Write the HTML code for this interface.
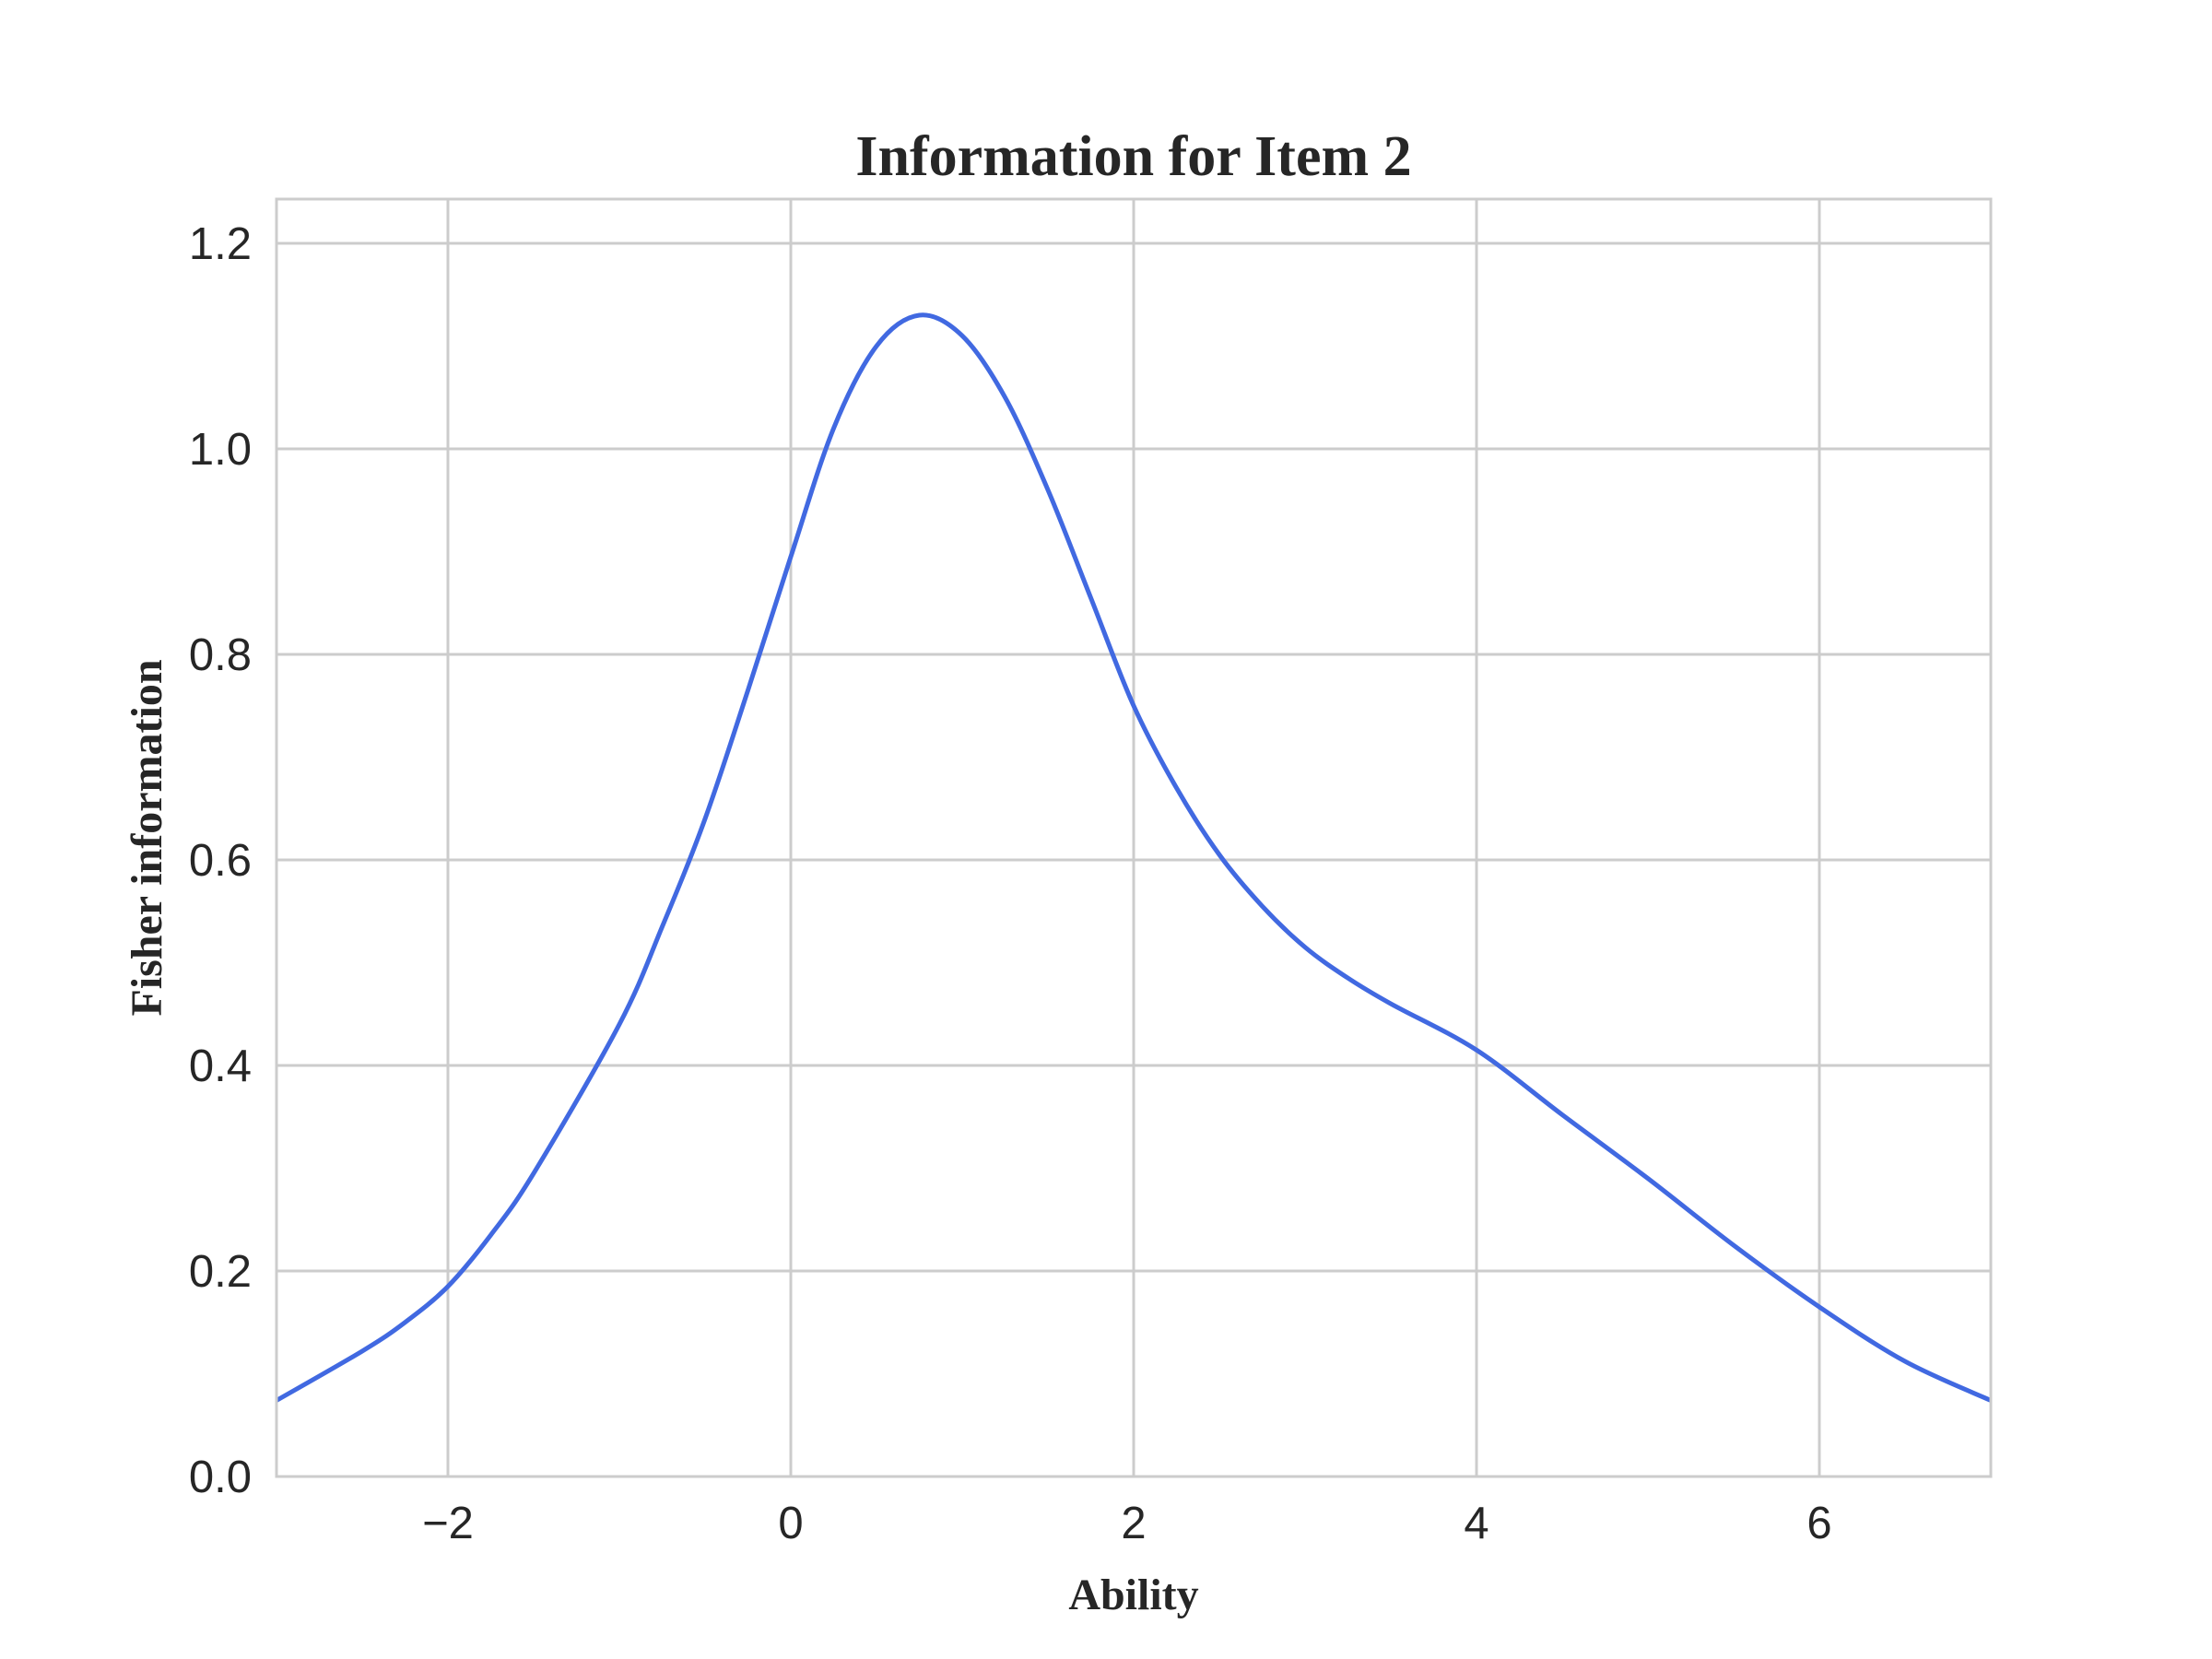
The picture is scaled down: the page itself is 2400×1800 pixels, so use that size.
<!DOCTYPE html>
<html><head><meta charset="utf-8"><style>html,body{margin:0;padding:0;background:#fff}svg{display:block}</style></head>
<body>
<svg id="chart" width="2400" height="1800" xmlns="http://www.w3.org/2000/svg">
<rect width="2400" height="1800" fill="#fff"/>
<g id="grid"></g>
<g id="ticks"></g>
<path id="curve" fill="none" stroke="#4169e1" stroke-width="5" stroke-linejoin="round"/>
<rect x="300" y="216" width="1860" height="1386" fill="none" stroke="#cccccc" stroke-width="3"/>
<text x="1230" y="190" text-anchor="middle" font-family="Liberation Serif, serif" font-weight="bold" font-size="62" fill="#262626">Information for Item 2</text>
<text x="1230" y="1746" text-anchor="middle" font-family="Liberation Serif, serif" font-weight="bold" font-size="48" fill="#262626">Ability</text>
<text transform="translate(175,909) rotate(-90)" text-anchor="middle" font-family="Liberation Serif, serif" font-weight="bold" font-size="48" fill="#262626">Fisher information</text>
</svg>
<script>
const abilityValues=[-3,-2.5,-2.25,-2,-1.75,-1.5,-1,-0.75,-0.5,-0.25,0,0.25,0.5,0.75,1,1.25,1.5,1.75,2,2.25,2.5,2.75,3,3.25,3.5,4,4.5,5,5.5,6,6.5,7];
const infoValues=[0.074,0.122,0.15,0.185,0.235,0.295,0.44,0.535,0.64,0.765,0.895,1.02,1.10,1.13,1.11,1.05,0.96,0.855,0.75,0.67,0.605,0.555,0.515,0.485,0.46,0.415,0.352,0.29,0.225,0.165,0.112,0.074];
const xTickValues=[-2,0,2,4,6];
const xTickLabels=["\u22122","0","2","4","6"];
const yTickValues=[0,0.2,0.4,0.6,0.8,1.0,1.2];
const yTickLabels=["0.0","0.2","0.4","0.6","0.8","1.0","1.2"];
const X0=300,X1=2160,Y0=1602,Y1=216,xmin=-3,xmax=7,ymin=0,ymax=1.243;
const sx=v=>X0+(v-xmin)/(xmax-xmin)*(X1-X0);
const sy=v=>Y0-(v-ymin)/(ymax-ymin)*(Y0-Y1);
const NS="http://www.w3.org/2000/svg";
const grid=document.getElementById('grid'),ticks=document.getElementById('ticks');
function mk(t,a,p){const e=document.createElementNS(NS,t);for(const k in a)e.setAttribute(k,a[k]);p.appendChild(e);return e;}
xTickValues.forEach((v,i)=>{
 const l=mk('line',{x1:sx(v),x2:sx(v),y1:Y1,y2:Y0,stroke:'#cccccc','stroke-width':3},grid);
 
 
 const t=mk('text',{x:sx(v),y:1669,'text-anchor':'middle','font-family':'Liberation Sans, sans-serif','font-size':49,fill:'#262626'},ticks);
 t.textContent=xTickLabels[i];
 
 
});
yTickValues.forEach((v,i)=>{
 const l=mk('line',{x1:X0,x2:X1,y1:sy(v),y2:sy(v),stroke:'#cccccc','stroke-width':3},grid);
 
 
 const t=mk('text',{x:273,y:sy(v)+17,'text-anchor':'end','font-family':'Liberation Sans, sans-serif','font-size':49,fill:'#262626'},ticks);
 t.textContent=yTickLabels[i];
 
 
});
const P=abilityValues.map((a,i)=>[sx(a),sy(infoValues[i])]);
let d='M'+P[0][0]+','+P[0][1];
for(let i=0;i<P.length-1;i++){
 const p0=P[i-1]||P[i],p1=P[i],p2=P[i+1],p3=P[i+2]||P[i+1];
 const c1=[p1[0]+(p2[0]-p0[0])/6,p1[1]+(p2[1]-p0[1])/6];
 const c2=[p2[0]-(p3[0]-p1[0])/6,p2[1]-(p3[1]-p1[1])/6];
 d+=' C'+c1+' '+c2+' '+p2;
}
document.getElementById('curve').setAttribute('d',d);
</script>
</body></html>
